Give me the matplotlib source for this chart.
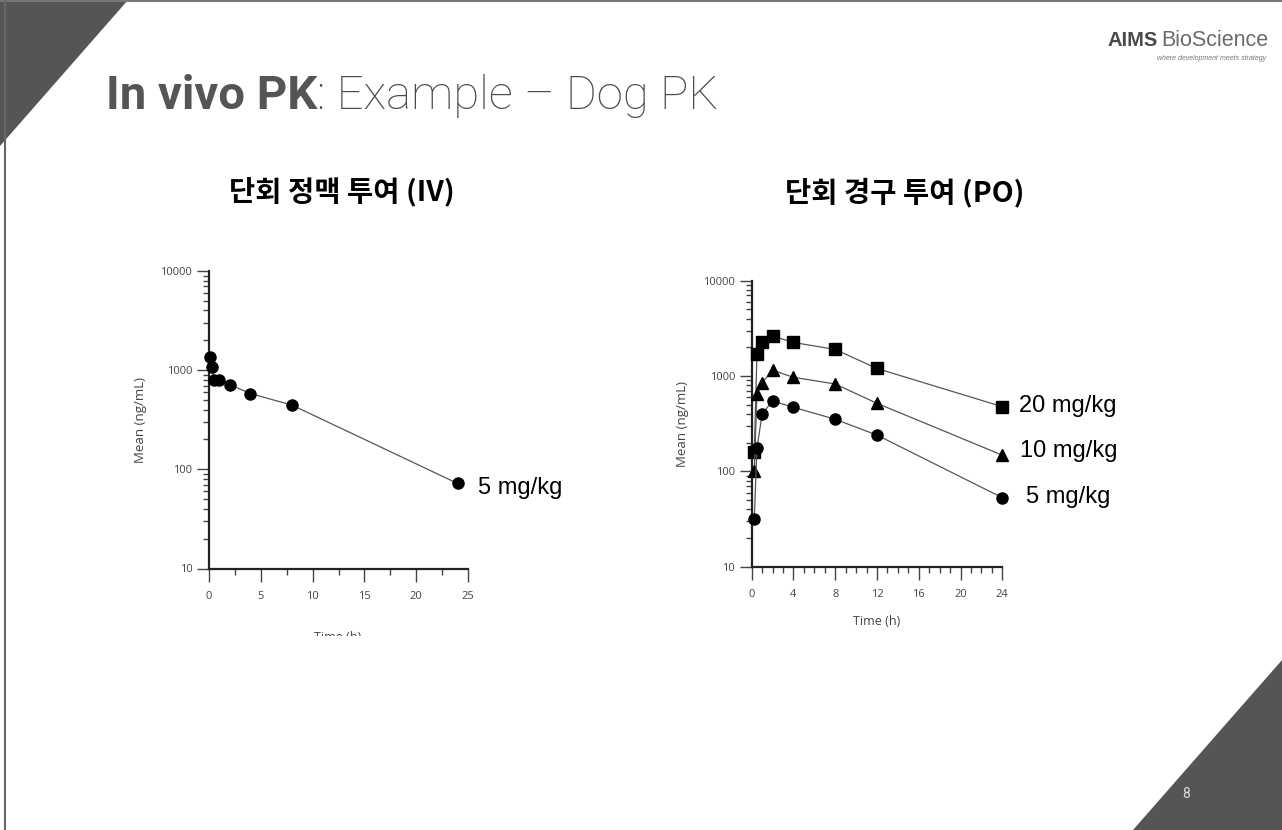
import matplotlib
matplotlib.use("Agg")
import matplotlib.pyplot as plt
from matplotlib.patches import Polygon, Rectangle
from matplotlib.ticker import MultipleLocator, LogLocator, NullFormatter, FixedLocator
import numpy as np

plt.rcParams['font.family'] = ['Noto Sans CJK KR', 'DejaVu Sans']

# ---------------- data ----------------
iv_time = [0.083, 0.25, 0.5, 1, 2, 4, 8, 24]
iv_conc = [1350, 1070, 800, 800, 715, 580, 445, 72]

po_time = [0.25, 0.5, 1, 2, 4, 8, 12, 24]
po_20 = [160, 1700, 2250, 2630, 2250, 1900, 1200, 477]
po_10 = [100, 647, 850, 1150, 970, 825, 517, 148]
po_5 = [32, 174, 400, 547, 470, 352, 240, 53]

main_title_bold = "In vivo PK"
main_title_rest = ": Example – Dog PK"
iv_title = "단회 정맥 투여 (IV)"
po_title = "단회 경구 투여 (PO)"
iv_label = "5 mg/kg"
po_labels = ["20 mg/kg", "10 mg/kg", "5 mg/kg"]
ylabel = "Mean (ng/mL)"
xlabel = "Time (h)"

W, H = 1282, 830
fig = plt.figure(figsize=(W / 100, H / 100), dpi=100)
fig.patch.set_facecolor("white")

def fx(px):
    return px / W

def fy(py):
    return 1 - py / H

DARK = "#555555"

# decorative shapes
fig.patches.append(Polygon([[fx(0), fy(0)], [fx(128), fy(0)], [fx(0), fy(146)]],
                           closed=True, transform=fig.transFigure, facecolor=DARK,
                           edgecolor="none", zorder=0))
fig.patches.append(Polygon([[fx(1282), fy(660)], [fx(1282), fy(830)], [fx(1133), fy(830)]],
                           closed=True, transform=fig.transFigure, facecolor=DARK,
                           edgecolor="none", zorder=0))
# slide border (top and left)
fig.lines.append(plt.Line2D([fx(0), fx(1282)], [fy(1.5), fy(1.5)], transform=fig.transFigure,
                            color="#777777", lw=1.5))
fig.lines.append(plt.Line2D([fx(4.5), fx(4.5)], [fy(0), fy(830)], transform=fig.transFigure,
                            color="#666666", lw=1.5, zorder=10))

# main title
t1 = fig.text(fx(106), fy(96), main_title_bold, family="Roboto", weight="bold",
              fontsize=34, color=DARK, va="center", ha="left")
fig.canvas.draw()
bb = t1.get_window_extent()
fig.text(bb.x1 / W, fy(96), main_title_rest, family="Roboto", weight="light",
         fontsize=34, color="#4a4a4a", va="center", ha="left")

# logo
t2 = fig.text(fx(1108), fy(41), "AIMS", family="Liberation Sans", weight="bold",
              fontsize=14.5, color="#4a4a4a", va="center", ha="left")
fig.canvas.draw()
bb2 = t2.get_window_extent()
fig.text(bb2.x1 / W + fx(3), fy(41), "BioScience", family="Liberation Sans",
         fontsize=15.5, color="#6a6a6a", va="center", ha="left")
fig.text(fx(1266), fy(59), "where development meets strategy", family="Liberation Sans",
         style="italic", fontsize=5, color="#777777", va="center", ha="right")

# page number
fig.text(fx(1186), fy(794), "8", family="Roboto", fontsize=10, color="#dddddd",
         va="center", ha="center")

# subtitles
fig.text(fx(342), fy(192), iv_title, family=["Noto Sans CJK KR", "DejaVu Sans"],
         weight="bold", fontsize=20.5, color="black", ha="center", va="center")
fig.text(fx(905), fy(192), po_title, family=["Noto Sans CJK KR", "DejaVu Sans"],
         weight="bold", fontsize=20.5, color="black", ha="center", va="center")

TICK_FAMILY = "Open Sans"
TICK_SIZE = 8
TICK_COLOR = "#444444"


def style_axes(ax, xmax, xmajor, xminor):
    ax.set_yscale("log")
    ax.set_ylim(10, 10000)
    ax.set_xlim(0, xmax)
    for s in ("top", "right"):
        ax.spines[s].set_visible(False)
    for s in ("left", "bottom"):
        ax.spines[s].set_linewidth(1.6)
        ax.spines[s].set_color("#222222")
    ax.xaxis.set_major_locator(MultipleLocator(xmajor))
    ax.xaxis.set_minor_locator(MultipleLocator(xminor))
    ax.yaxis.set_major_locator(FixedLocator([10, 100, 1000, 10000]))
    ax.yaxis.set_minor_locator(LogLocator(base=10, subs=np.arange(2, 10)))
    ax.yaxis.set_minor_formatter(NullFormatter())
    ax.set_yticklabels(["10", "100", "1000", "10000"])
    ax.tick_params(which="major", length=9, width=1, color="#444444", pad=3,
                   labelsize=TICK_SIZE, labelcolor=TICK_COLOR)
    ax.tick_params(axis="x", which="major", pad=7)
    ax.tick_params(which="minor", length=4.5, width=1, color="#444444")
    for lab in ax.get_xticklabels() + ax.get_yticklabels():
        lab.set_family(TICK_FAMILY)
    ax.patch.set_alpha(0)
    for sp in ax.spines.values():
        sp.set_zorder(3)


LINE_C = "#555555"
MS = 8

# ---------------- left (IV) ----------------
axL = fig.add_axes([fx(209), fy(568.5), fx(468) - fx(209), fy(271) - fy(568.5)])
axL.plot(iv_time, iv_conc, color=LINE_C, lw=0.9, marker="o", markersize=MS,
         markerfacecolor="black", markeredgecolor="black", clip_on=False, zorder=4)
style_axes(axL, 25, 5, 2.5)
axL.set_ylabel(ylabel, fontsize=9.5, color="#444444", labelpad=10, family=TICK_FAMILY)
fig.text(fx(478), fy(488), iv_label, family="Liberation Sans",
         fontsize=17, color="black", va="center", ha="left")
fig.text(fx(338), fy(637), xlabel, fontsize=9, color="#444444", ha="center", va="center",
         family=TICK_FAMILY)
# crop of the left picture's bottom edge
fig.patches.append(Rectangle((fx(10), fy(655)), fx(590), fy(636) - fy(655),
                             transform=fig.transFigure, facecolor="white",
                             edgecolor="none", zorder=5))

# ---------------- right (PO) ----------------
axR = fig.add_axes([fx(751.7), fy(566.7), fx(1002.3) - fx(751.7), fy(280.7) - fy(566.7)])
markers = ["s", "^", "o"]
series = [po_20, po_10, po_5]
for vals, mk in zip(series, markers):
    axR.plot(po_time, vals, color=LINE_C, lw=0.9, marker=mk, markersize=MS,
             markerfacecolor="black", markeredgecolor="black", clip_on=False, zorder=4)
style_axes(axR, 24, 4, 1)
axR.set_ylabel(ylabel, fontsize=9.5, color="#444444", labelpad=10, family=TICK_FAMILY)
axR.set_xlabel(xlabel, fontsize=9, color="#444444", labelpad=11, family=TICK_FAMILY)
label_y = [406, 451, 497]
label_x = [1019, 1020, 1026]
for lab, lx, ly in zip(po_labels, label_x, label_y):
    fig.text(fx(lx), fy(ly), lab, family="Liberation Sans", fontsize=17,
             color="black", va="center", ha="left")

fig.savefig("out.png", dpi=100, facecolor="white")
